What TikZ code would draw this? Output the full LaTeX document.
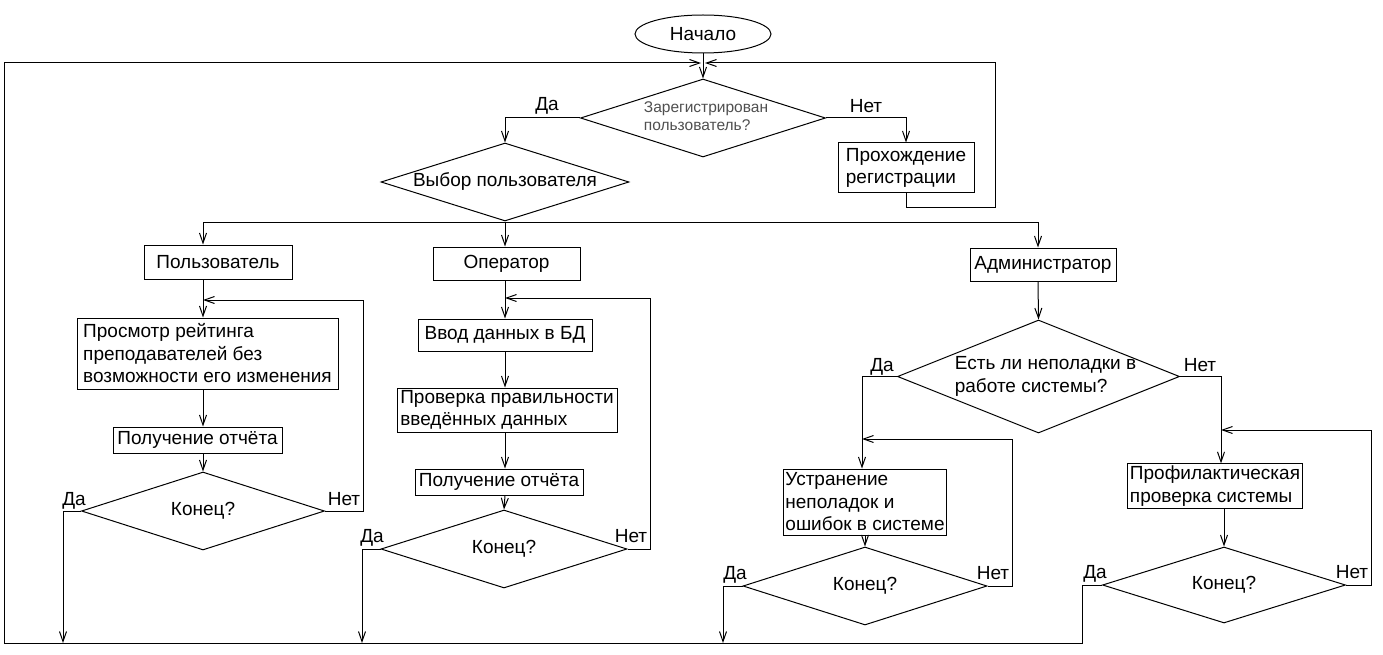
\documentclass[tikz,border=0pt]{standalone}
\usepackage{fontspec}
\setmainfont{Liberation Sans}
\usetikzlibrary{shapes.geometric,arrows.meta}
\definecolor{gtext}{HTML}{505050}
\newcommand\dtx[1]{\smash{\makebox[0pt]{\raisebox{\dimexpr-.5\height+.5\depth\relax}{#1}}}}
\begin{document}
\begin{tikzpicture}[x=1pt,y=-1pt,line width=1pt,
  every node/.style={font=\fontsize{19}{22.5}\selectfont},
  box/.style={draw,rectangle,inner sep=2pt,align=left},
  dia/.style={draw,diamond,inner sep=0pt},
  oval/.style={draw,ellipse,inner sep=0pt},
  lbl/.style={inner sep=0pt,anchor=base},
  arr/.style={-{Straight Barb[length=10pt,width=7pt]}}]
\fill[white] (0,0) rectangle (1383,655);
\useasboundingbox (0,0) rectangle (1383,655);

% column reference coordinates
\coordinate (c1) at (203,0);
\coordinate (c2) at (505,0);
\coordinate (c3) at (862,0);
\coordinate (c4) at (1221,0);
\coordinate (ca) at (1038,0);
\coordinate (top) at (703,63);
\coordinate (split) at (505,222);
\coordinate (l1) at (203,300);
\coordinate (l2) at (505,298);
\coordinate (l3) at (862,439);
\coordinate (l4) at (1221,430);
\coordinate (b1) at (63,643);
\coordinate (b2) at (362,643);
\coordinate (b3) at (723,643);
\coordinate (b0) at (4,643);

% nodes
\node[oval,minimum width=136pt,minimum height=38pt] (start) at (703,34) {Начало};
\node[dia,minimum width=245pt,minimum height=78pt] (d0) at (703,118)
  {\dtx{\hspace*{6pt}\raisebox{-4pt}{\color{gtext}\fontsize{15.5}{18}\selectfont\begin{tabular}{@{}l@{}}Зарегистрирован\\пользователь?\end{tabular}}}};
\node[box,minimum width=136pt,minimum height=50pt] (reg) at (906,168) {Прохождение\\регистрации};
\node[dia,minimum width=248pt,minimum height=78pt] (d1) at (505,182) {\dtx{Выбор пользователя}};

\node[box,minimum width=148pt,minimum height=34pt] (user) at (218,262) {Пользователь};
\node[box,minimum width=261pt,minimum height=71pt] (view) at (207.5,353.5) {Просмотр рейтинга\\преподавателей без\\возможности его изменения};
\node[box,minimum width=169pt,minimum height=26pt] (rep1) at (197.5,440) {Получение отчёта};
\node[dia,minimum width=243pt,minimum height=78pt] (end1) at (203,511) {\dtx{Конец?}};

\node[box,minimum width=147pt,minimum height=33pt] (op) at (506.5,263.5) {Оператор};
\node[box,minimum width=174pt,minimum height=32pt] (inp) at (505,335) {Ввод данных в БД};
\node[box,minimum width=220pt,minimum height=44pt] (chk) at (507,410) {Проверка правильности\\введённых данных};
\node[box,minimum width=168pt,minimum height=26pt] (rep2) at (499,482) {Получение отчёта};
\node[dia,minimum width=246pt,minimum height=78pt] (end2) at (504,549) {\dtx{Конец?}};

\node[box,minimum width=146pt,minimum height=33pt] (admin) at (1043,264.5) {Администратор};
\node[dia,minimum width=282pt,minimum height=113pt] (derr) at (1038.5,376.5)
  {\dtx{\hspace*{14pt}\begin{tabular}{@{}l@{}}Есть ли неполадки в\\работе системы?\end{tabular}}};
\node[box,minimum width=162pt,minimum height=66pt] (fix) at (865,502) {Устранение\\неполадок и\\ошибок в системе};
\node[dia,minimum width=244pt,minimum height=78pt] (end3) at (865,586) {\dtx{Конец?}};
\node[box,minimum width=170pt,minimum height=44pt] (prof) at (1215,486) {Профилактическая\\проверка системы};
\node[dia,minimum width=243pt,minimum height=76pt] (end4) at (1224,585) {\dtx{Конец?}};

% labels
\node[lbl] (y0) at (547,111) {Да};
\node[lbl] (n0) at (866,113) {Нет};
\node[lbl] (y1) at (74,505) {Да};
\node[lbl] (n1) at (344,505) {Нет};
\node[lbl] (y2) at (372,542) {Да};
\node[lbl] (n2) at (631,542) {Нет};
\node[lbl] (ye) at (882,371) {Да};
\node[lbl] (ne) at (1200,371) {Нет};
\node[lbl] (y3) at (735,579) {Да};
\node[lbl] (n3) at (993,579) {Нет};
\node[lbl] (y4) at (1095,578) {Да};
\node[lbl] (n4) at (1352,578) {Нет};

% connectors: top
\draw[arr] (start.south) -- (d0.north);
\draw[arr] (d0.west) -| (d1.north);
\draw[arr] (d0.east) -| (reg.north);
\draw[arr] (reg.south) -- ++(0,14) -- ++(89,0) |- ([xshift=2pt]top);
\draw[arr] (end4.west) -- ++(-20,0) |- (b0) |- ([xshift=-2pt]top);

% split
\draw (d1.south) -- (split);
\draw (c1 |- split) -- (ca |- split);
\draw[arr] (c1 |- split) -- (c1 |- user.north);
\draw[arr] (split) -- (c2 |- op.north);
\draw[arr] (ca |- split) -- (ca |- admin.north);

% column 1
\draw[arr] (c1 |- user.south) -- (c1 |- view.north);
\draw[arr] (c1 |- view.south) -- (c1 |- rep1.north);
\draw[arr] (c1 |- rep1.south) -- (end1.north);
\draw[arr] (end1.east) -- ++(38,0) |- (l1);
\draw[arr] (end1.west) -| (b1);

% column 2
\draw[arr] (c2 |- op.south) -- (c2 |- inp.north);
\draw[arr] (c2 |- inp.south) -- (c2 |- chk.north);
\draw[arr] (c2 |- chk.south) -- (c2 |- rep2.north);
\draw[arr] (c2 |- rep2.south) -- (end2.north);
\draw[arr] (end2.east) -- ++(23,0) |- (l2);
\draw[arr] (end2.west) -| (b2);

% column 3
\draw[arr] (ca |- admin.south) -- (derr.north);
\draw[arr] (derr.west) -| (c3 |- fix.north);
\draw[arr] (fix.south) -- (end3.north);
\draw[arr] (end3.east) -- ++(25,0) |- (l3);
\draw[arr] (end3.west) -| (b3);

% column 4
\draw[arr] (derr.east) -| (c4 |- prof.north);
\draw[arr] (end4.north |- prof.south) -- (end4.north);
\draw[arr] (end4.east) -- ++(25,0) |- (l4);
\end{tikzpicture}
\end{document}
